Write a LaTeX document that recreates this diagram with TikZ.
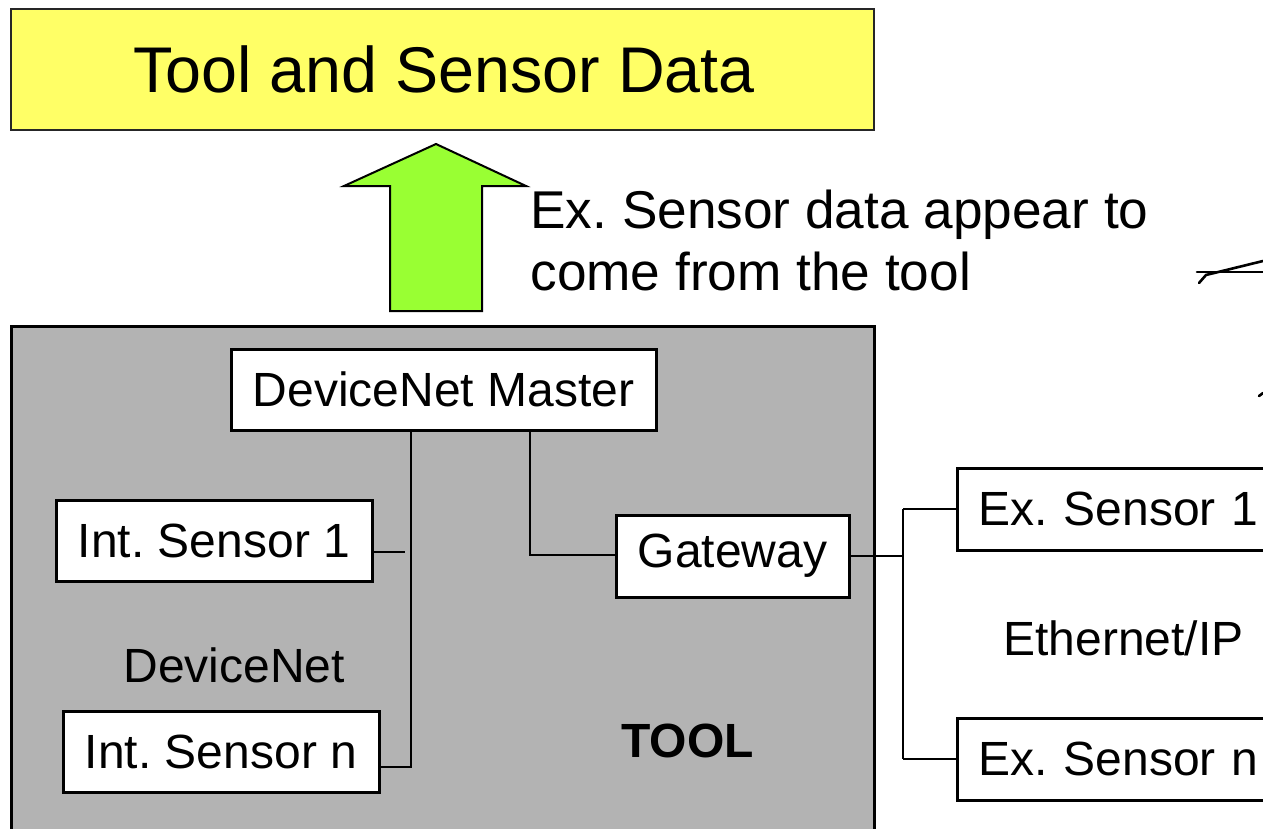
\documentclass[tikz,border=0pt]{standalone}
\usepackage{fontspec}
\setmainfont{Liberation Sans}
\frenchspacing
\begin{document}
\begin{tikzpicture}[x=0.5pt,y=-0.5pt,
  unitbox/.style={draw=black,line width=1.5pt,fill=#1,inner sep=0pt,
    font=\fontsize{24}{28}\selectfont},
  unitbox/.default=none,
  wire/.style={draw=black,line width=1pt},
  label/.style={inner sep=0pt,font=\fontsize{24}{28}\selectfont}]
\definecolor{banner}{HTML}{FFFF66}
\definecolor{upgreen}{HTML}{99FF33}
\definecolor{toolgray}{HTML}{B3B3B3}
\useasboundingbox (0,0) rectangle (1263,829);
\clip (0,0) rectangle (1263,829);

% header banner
\node[draw=black!85,line width=1pt,fill=banner,minimum width=431.5pt,minimum height=60.5pt,inner sep=0pt]
  (banner) at (442.5,69.5) {};
\node[inner sep=0pt,anchor=base west,font=\fontsize{32.3}{36}\selectfont] (bannertxt) at (133,93) {Tool and Sensor Data};

% upward arrow
\filldraw[fill=upgreen,draw=black,line width=1pt]
  (390,311) -- (390,186) -- (344,186) -- (436,144) -- (526,186) -- (482,186) -- (482,311) -- cycle;
\node[inner sep=0pt,anchor=base west,align=left,font=\fontsize{26.6}{31}\selectfont] (note) at (530,290)
  {Ex. Sensor data appear to\\come from the tool};

% tool housing
\filldraw[fill=toolgray,draw=black,line width=1.5pt] (11,326) rectangle (874,870);

% units
\node[unitbox=white,minimum width=212.5pt,minimum height=40.5pt] (master) at (443.5,389.5) {DeviceNet Master};
\node[unitbox=white,minimum width=158pt,minimum height=40.5pt] (int1) at (214,540.5) {Int. Sensor 1};
\node[unitbox=white,minimum width=158pt,minimum height=40.5pt] (intn) at (221,751.5) {Int. Sensor n};
\node[unitbox=white,minimum width=116.5pt,minimum height=41pt] (gateway) at (732.5,556) {Gateway};
\node[unitbox=white,anchor=west,minimum height=41pt,text width=160pt,inner xsep=10.5pt,align=left] (ex1) at (956,509) {Ex. Sensor 1};
\node[unitbox=white,anchor=west,minimum height=41pt,text width=160pt,inner xsep=10.5pt,align=left] (exn) at (956,759) {Ex. Sensor n};

% DeviceNet bus
\coordinate (busend) at (411,767);
\coordinate (stub) at (405,552);
\draw[wire] (busend |- master.south) -- (busend) -- (busend -| intn.east);
\draw[wire] (stub -| int1.east) -- (stub);
\coordinate (gwbend) at (530,555);
\draw[wire] (gwbend |- master.south) -- (gwbend) -- (gwbend -| gateway.west);

% Ethernet/IP branch
\coordinate (eth) at (903,555);
\draw[wire] (gateway.east) -- (eth |- gateway.east);
\draw[wire] (eth |- ex1.west) -- (eth |- exn.west);
\draw[wire] (eth |- ex1.west) -- (ex1.west);
\draw[wire] (eth |- exn.west) -- (exn.west);

% labels
\node[label,anchor=base west] (dnet) at (123,682) {DeviceNet};
\node[label,anchor=base west,font=\fontsize{24}{28}\selectfont\bfseries] (tool) at (621,757) {TOOL};
\node[label,anchor=base west] (enet) at (1003,655) {Ethernet/IP};

% pen strokes at the right edge
\draw[line width=1.3pt,line cap=round] (1197,272) -- (1263,272);
\draw[line width=1.3pt,line cap=round] (1199,283) -- (1206,275) -- (1263,261);
\draw[line width=1.3pt,line cap=round] (1259,396) -- (1263,393);
\end{tikzpicture}
\end{document}
